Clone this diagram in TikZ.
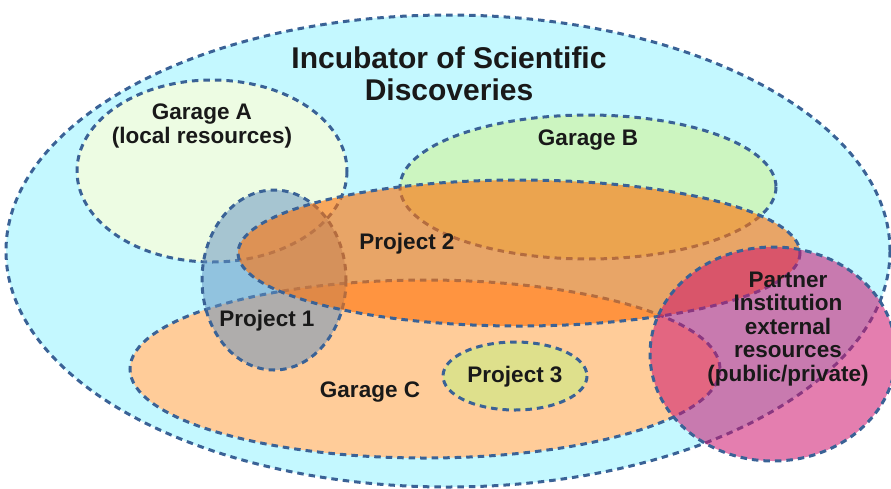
\documentclass[tikz,border=0pt]{standalone}
\usepackage{fontspec}
\setmainfont{Liberation Sans}
\definecolor{edgeblue}{RGB}{58,98,150}
\definecolor{incub}{RGB}{196,248,255}
\definecolor{garA}{RGB}{237,252,227}
\definecolor{garB}{RGB}{204,245,192}
\definecolor{garC}{RGB}{255,204,153}
\definecolor{projone}{RGB}{96,144,192}
\definecolor{projtwo}{RGB}{255,115,10}
\definecolor{projthree}{RGB}{222,224,140}
\definecolor{partner}{RGB}{205,20,110}

\begin{document}
\begin{tikzpicture}[x=1pt,y=-1pt,
	zone/.style={draw=edgeblue,line width=3pt,dash pattern=on 6.5pt off 5pt},
	lbl/.style={font=\bfseries\fontsize{22.5}{23.5}\selectfont,align=center,text=black!90}]
			\useasboundingbox (0,0) rectangle (891,488);
			\draw [zone,fill=incub] (448,251) ellipse [x radius=442,y radius=236];
			\draw [zone,fill=garA] (212,171) ellipse [x radius=135,y radius=91];
			\draw [zone,fill=garB] (588,187) ellipse [x radius=188,y radius=72];
			\draw [zone,fill=garC] (425,369) ellipse [x radius=295,y radius=89];
			\draw [zone,fill=projone,fill opacity=0.5] (274,280) ellipse [x radius=72,y radius=90];
			\draw [zone,fill=projtwo,fill opacity=0.62] (519,253) ellipse [x radius=281,y radius=73];
			\draw [zone,fill=projthree] (515,376) ellipse [x radius=72,y radius=34];
			\draw [zone,fill=partner,fill opacity=0.55] (773,354) ellipse [x radius=123,y radius=107];
			\node [lbl,font=\bfseries\fontsize{30}{32}\selectfont] (title) at (449,74) {Incubator of Scientific\\Discoveries};
			\node [lbl] (garagea) at (202,126) {Garage A\\(local resources)};
			\node [lbl] (garageb) at (588,140) {Garage B};
			\node [lbl] (garagec) at (370,392) {Garage C};
			\node [lbl] (project1) at (267,321) {Project 1};
			\node [lbl] (project2) at (407,244) {Project 2};
			\node [lbl] (project3) at (515,377) {Project 3};
			\node [lbl] (partnerinst) at (788,329) {Partner\\Institution\\external\\resources\\(public/private)};
	 	\end{tikzpicture}
\end{document}
